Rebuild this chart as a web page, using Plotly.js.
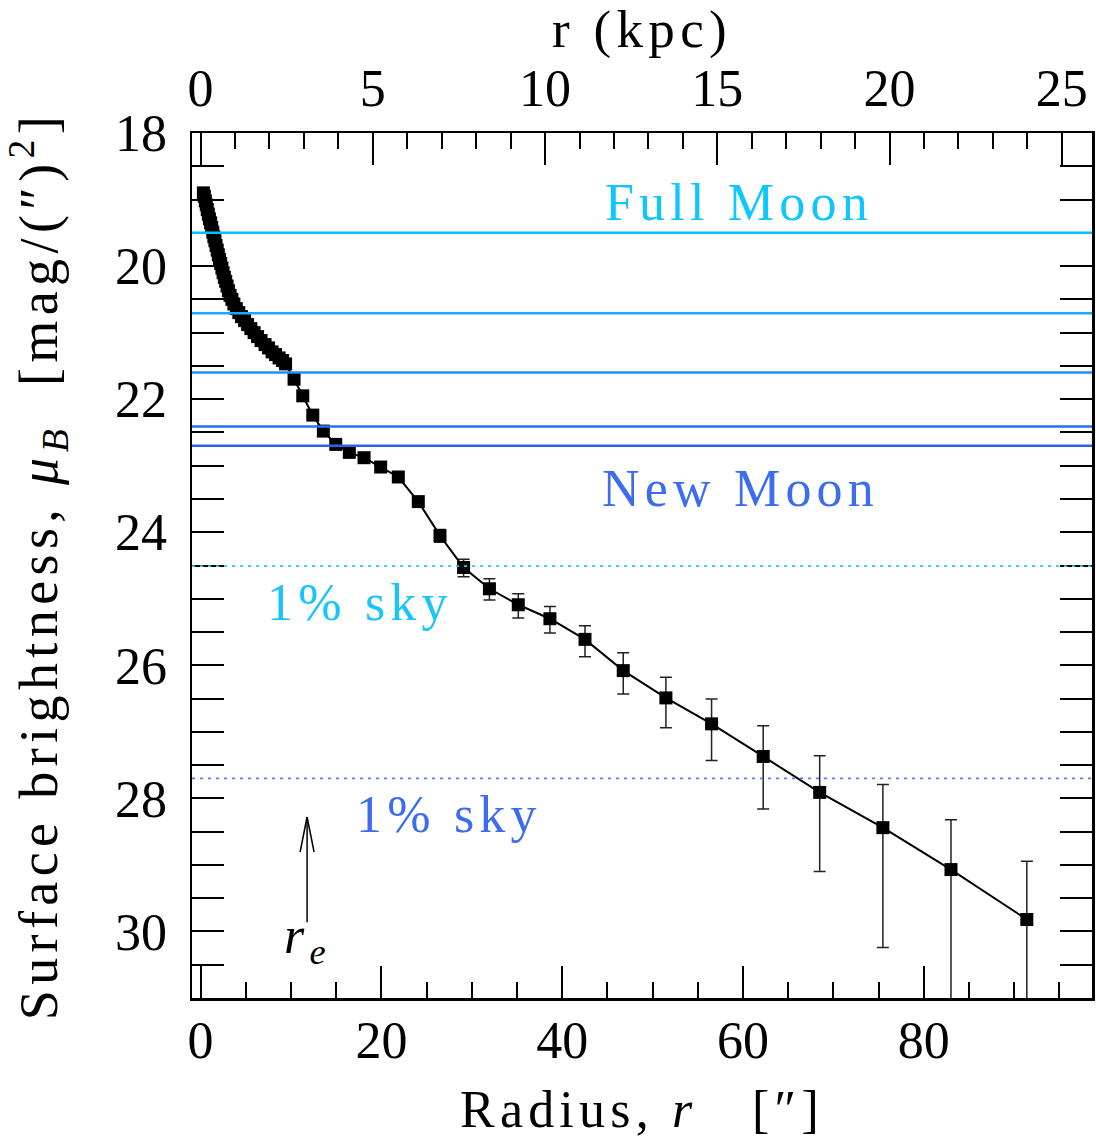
<!DOCTYPE html>
<html>
<head>
<meta charset="utf-8">
<script src="https://cdn.plot.ly/plotly-3.0.1.min.js"></script>
<style>
  html, body { margin: 0; padding: 0; background: #fff; }
  .annotation-text, .xtitle, .x2title, .ytitle { letter-spacing: 0.1em; }
</style>
</head>
<body>
<div id="chart" style="width:1096px;height:1144px;"></div>
<script>
// ---- data ----
const radius = [0.31,0.41,0.52,0.63,0.74,0.86,0.98,1.11,1.23,1.35,1.47,1.59,1.71,1.84,1.96,2.09,2.22,2.36,2.49,2.63,
  2.78,2.93,3.08,3.26,3.46,3.68,3.95,4.23,4.53,4.87,5.20,5.56,5.92,6.30,6.69,7.13,7.52,7.91,8.29,8.68,9.07,9.40,
  10.34,11.30,12.41,13.58,14.95,16.45,18.08,19.92,21.87,24.08,26.48,29.09,31.95,35.14,38.64,42.52,46.75,51.47,
  56.52,62.23,68.48,75.47,83.00,91.39];
const mu = [18.90,18.95,19.02,19.08,19.15,19.22,19.29,19.35,19.42,19.49,19.56,19.62,19.69,19.76,19.83,19.90,19.96,20.03,20.10,20.17,
  20.23,20.30,20.37,20.44,20.50,20.57,20.64,20.70,20.76,20.82,20.88,20.94,21.00,21.06,21.12,21.18,21.23,21.29,21.33,21.38,21.42,21.47,
  21.70,21.95,22.24,22.48,22.68,22.80,22.88,23.02,23.17,23.54,24.05,24.53,24.85,25.09,25.30,25.61,26.08,26.49,
  26.88,27.37,27.91,28.44,29.07,29.82];
// error toward brighter (up) and fainter (down) magnitudes
const errBright = [0,0,0,0,0,0,0,0,0,0,0,0,0,0,0,0,0,0,0,0,0,0,0,0,0,0,0,0,0,0,0,0,0,0,0,0,0,0,0,0,0,0,
  0,0,0,0,0,0,0,0,0,0.04,0.09,0.125,0.15,0.165,0.185,0.205,0.27,0.31,0.375,0.46,0.55,0.65,0.75,0.875];
const errFaint = [0,0,0,0,0,0,0,0,0,0,0,0,0,0,0,0,0,0,0,0,0,0,0,0,0,0,0,0,0,0,0,0,0,0,0,0,0,0,0,0,0,0,
  0,0,0,0,0,0,0,0,0,0.04,0.10,0.14,0.17,0.20,0.215,0.26,0.35,0.45,0.55,0.79,1.19,1.80,3.00,3.00];
const moonLevels = [19.50, 20.71, 21.60, 22.41, 22.70];
const moonColors = ['#00C4FF', '#18AAFF', '#1E8EFF', '#2870F2', '#2E62EA'];
const skyLevels = [24.51, 27.70];
const skyColors = ['#30C8F4', '#5580F0'];
const skyLabelColors = ['#18C4F8', '#3E6CF0'];
const effectiveRadius = 11.78;   // arcsec
const kpcPerArcsec = 0.26245;
const xRange = [-0.95, 98.6];
const yRange = [31, 18];

const FONT = 'Liberation Serif';

const traces = [
  {
    x: radius, y: mu, type: 'scatter', mode: 'lines+markers',
    line: {color: 'black', width: 2},
    marker: {symbol: 'square', size: 13, color: 'black'},
    error_y: {type: 'data', symmetric: false, array: errFaint, arrayminus: errBright,
              color: '#222', thickness: 1.5, width: 6},
    hoverinfo: 'skip'
  },
  { x: [], y: [], xaxis: 'x2', yaxis: 'y', type: 'scatter', mode: 'markers', hoverinfo: 'skip' }
];

const shapes = [];
moonLevels.forEach((v, i) => shapes.push({
  type: 'line', xref: 'paper', x0: 0, x1: 1, yref: 'y', y0: v, y1: v,
  line: {color: moonColors[i], width: 2.5}, layer: 'above'
}));
skyLevels.forEach((v, i) => shapes.push({
  type: 'line', xref: 'paper', x0: 0, x1: 1, yref: 'y', y0: v, y1: v,
  line: {color: skyColors[i], width: 1.7, dash: '3px,5px'}, layer: 'above'
}));
// r_e arrow: shaft + open head
const arrowTip = 28.28, arrowTail = 29.86;
shapes.push({type: 'line', xref: 'x', yref: 'y', x0: effectiveRadius, x1: effectiveRadius,
  y0: arrowTail, y1: arrowTip, line: {color: 'black', width: 1.5}, layer: 'above'});
[-7, 7].forEach(dx => shapes.push({
  type: 'line', xref: 'x', yref: 'y', xsizemode: 'pixel', ysizemode: 'pixel',
  xanchor: effectiveRadius, yanchor: arrowTip, x0: dx, y0: -35, x1: 0, y1: 0,
  line: {color: 'black', width: 1.5}, layer: 'above'
}));

const annotations = [
  {text: 'Full Moon', x: 59.6, y: 19.05, font: {color: '#10C6FF', size: 52}},
  {text: 'New Moon', x: 59.7, y: 23.34, font: {color: '#3C6CF0', size: 52}},
  {text: '1% sky', x: 17.6, y: 25.05, font: {color: skyLabelColors[0], size: 52}},
  {text: '1% sky', x: 27.5, y: 28.24, font: {color: skyLabelColors[1], size: 52}},
  {text: '<i>r</i><sub><i>e</i></sub>', x: effectiveRadius, y: 30.12, font: {color: 'black', size: 52}}
].map(a => Object.assign({xref: 'x', yref: 'y', showarrow: false, xanchor: 'center', yanchor: 'middle'},
  a, {font: Object.assign({family: FONT}, a.font)}));

const axisCommon = {
  ticks: 'inside', ticklen: 32, tickwidth: 2, tickcolor: 'black',
  showline: true, linewidth: 2.5, linecolor: 'black',
  showgrid: false, zeroline: false,
  tickfont: {family: FONT, size: 52, color: 'black'}
};

const layout = {
  width: 1096, height: 1144,
  margin: {l: 192, r: 4, t: 133, b: 146, pad: 0},
  showlegend: false,
  paper_bgcolor: 'white', plot_bgcolor: 'white',
  font: {family: FONT, size: 52, color: 'black'},
  xaxis: Object.assign({}, axisCommon, {
    range: xRange, tickmode: 'linear', tick0: 0, dtick: 20, mirror: true,
    ticklabelstandoff: -5,
    minor: {dtick: 5, tick0: 0, ticklen: 16, tickwidth: 2, tickcolor: 'black', ticks: 'inside'},
    title: {text: 'Radius, <i>r</i>\u00a0\u00a0\u00a0[\u2033]', font: {family: FONT, size: 52}, standoff: 23}
  }),
  xaxis2: Object.assign({}, axisCommon, {
    overlaying: 'x', side: 'top', anchor: 'y',
    range: [xRange[0] * kpcPerArcsec, xRange[1] * kpcPerArcsec],
    tickmode: 'linear', tick0: 0, dtick: 5,
    ticklabelstandoff: 4,
    minor: {dtick: 1, tick0: 0, ticklen: 16, tickwidth: 2, tickcolor: 'black', ticks: 'inside'},
    title: {text: 'r (kpc)', font: {family: FONT, size: 53}, standoff: 5}
  }),
  yaxis: Object.assign({}, axisCommon, {
    range: yRange, tickmode: 'linear', tick0: 18, dtick: 2, mirror: 'allticks',
    ticklabelstandoff: 12,
    minor: {dtick: 0.5, tick0: 18, ticklen: 16, tickwidth: 2, tickcolor: 'black', ticks: 'inside'},
    title: {text: 'Surface brightness,\u00a0<i>\u03bc</i><sub><i>B</i></sub>\u00a0\u00a0[mag/(\u2033)<sup>2</sup>]',
            font: {family: FONT, size: 54}, standoff: 46}
  }),
  shapes: shapes,
  annotations: annotations
};

Plotly.newPlot('chart', traces, layout, {staticPlot: true, displayModeBar: false});
</script>
</body>
</html>
